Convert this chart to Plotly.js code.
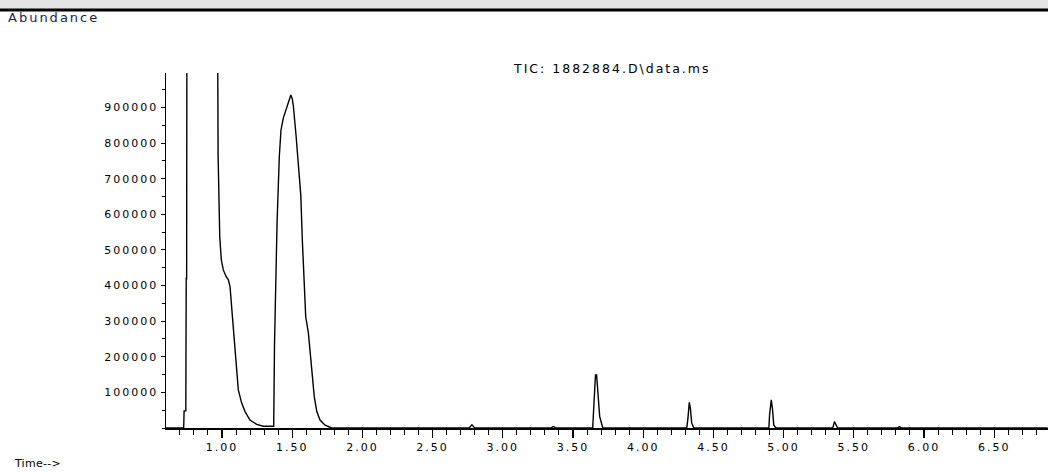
<!DOCTYPE html>
<html>
<head>
<meta charset="utf-8">
<script src="https://cdn.plot.ly/plotly-3.0.1.min.js"></script>
<style>
  html, body { margin: 0; padding: 0; background: #fff; }
  #chart { width: 1048px; height: 473px; }
  svg text { letter-spacing: 2px; }
  g.annotation[data-index="2"] text { letter-spacing: 0.3px; }
</style>
</head>
<body>
<div id="chart"></div>
<script>
// Retention time (min)
const time = [
  0.60, 0.727, 0.730, 0.742, 0.745, 0.748, 0.750, 0.966,
  0.968, 0.972, 0.984, 0.995, 1.009, 1.030, 1.045, 1.057, 1.069, 1.080,
  1.093, 1.105, 1.116, 1.140, 1.164, 1.199, 1.247, 1.294, 1.354,
  1.368, 1.374, 1.392, 1.408, 1.420, 1.437, 1.461, 1.479, 1.490, 1.500,
  1.508, 1.527, 1.543, 1.561, 1.572, 1.586, 1.596, 1.615, 1.627, 1.643,
  1.657, 1.675, 1.698, 1.734, 1.781,
  2.76, 2.78, 2.80,
  3.34, 3.36, 3.38,
  3.640, 3.647, 3.660, 3.668, 3.676, 3.690, 3.712,
  4.310, 4.318, 4.328, 4.336, 4.345, 4.360,
  4.895, 4.900, 4.912, 4.920, 4.930, 4.945,
  5.350, 5.362, 5.370, 5.385,
  5.81, 5.825, 5.84,
  6.88
];
// Abundance (TIC)
const abundance = [
  0, 0, 48000, 48000, 420000, 420000, 1200000, 1200000,
  1200000, 767000, 536000, 472000, 444000, 425000, 416000, 397000, 341000, 285000,
  219000, 154000, 107000, 70000, 46000, 22500, 10000, 5000, 4000,
  5000, 239000, 576000, 762000, 837000, 871000, 902000, 923000, 935000, 925000,
  905000, 823000, 736000, 654000, 528000, 416000, 313000, 267000, 211000, 144000,
  88000, 46000, 22500, 8000, 0,
  0, 9000, 0,
  0, 4000, 0,
  0, 46000, 149000, 149000, 102000, 32000, 0,
  0, 25000, 72000, 55000, 15000, 0,
  0, 37000, 79000, 56000, 8000, 0,
  0, 18000, 10000, 0,
  0, 4000, 0,
  0
];
const xTickVals = [1.0, 1.5, 2.0, 2.5, 3.0, 3.5, 4.0, 4.5, 5.0, 5.5, 6.0, 6.5];
const xTickText = ["1.00", "1.50", "2.00", "2.50", "3.00", "3.50", "4.00", "4.50", "5.00", "5.50", "6.00", "6.50"];
const yTickVals = [100000, 200000, 300000, 400000, 500000, 600000, 700000, 800000, 900000];
const yTickText = ["100000", "200000", "300000", "400000", "500000", "600000", "700000", "800000", "900000"];
const titleText = "TIC: 1882884.D\\data.ms";

const FONT = "DejaVu Sans, Liberation Sans, sans-serif";

const trace = {
  x: time, y: abundance, type: "scatter", mode: "lines",
  line: { color: "#000", width: 1.4 }, hoverinfo: "skip"
};

const layout = {
  width: 1048, height: 473,
  margin: { l: 166, r: 0, t: 73, b: 45 },
  paper_bgcolor: "#fff", plot_bgcolor: "#fff",
  showlegend: false,
  font: { family: FONT, size: 11, color: "#000" },
  xaxis: {
    range: [0.601, 6.883],
    tickvals: xTickVals, ticktext: xTickText,
    ticks: "outside", ticklen: 8, tickwidth: 1.2, tickcolor: "#000",
    minor: { dtick: 0.1, tick0: 0, ticks: "outside", ticklen: 5, tickwidth: 1, tickcolor: "#000" },
    showline: true, linecolor: "#000", linewidth: 1.5,
    showgrid: false, zeroline: false,
    tickfont: { family: FONT, size: 11, color: "#000" }
  },
  yaxis: {
    range: [0, 997000],
    tickvals: yTickVals, ticktext: yTickText,
    ticks: "outside", ticklen: 4, tickwidth: 1, tickcolor: "#000",
    minor: { dtick: 50000, tick0: 0, ticks: "outside", ticklen: 3, tickwidth: 1, tickcolor: "#000" },
    showline: true, linecolor: "#000", linewidth: 1.5,
    showgrid: false, zeroline: false,
    tickfont: { family: FONT, size: 11, color: "#000" }
  },
  shapes: [
    { type: "rect", xref: "paper", yref: "paper", x0: -0.2, x1: 1.05, y0: 1.1803, y1: 1.26,
      fillcolor: "#e4e4e4", line: { width: 0 }, layer: "below" },
    { type: "line", xref: "paper", yref: "paper", x0: -0.2, x1: 1.05, y0: 1.1775, y1: 1.1775,
      line: { color: "#000", width: 3 } }
  ],
  annotations: [
    { text: titleText, xref: "paper", yref: "paper", x: 0.5057, y: 1.014,
      xanchor: "center", yanchor: "middle", showarrow: false,
      font: { family: FONT, size: 12.5, color: "#000" } },
    { text: "Abundance", xref: "paper", yref: "paper", x: -0.181, y: 1.155,
      xanchor: "left", yanchor: "middle", showarrow: false,
      font: { family: FONT, size: 13, color: "#1e1e46" } },
    { text: "Time-->", xref: "paper", yref: "paper", x: -0.181, y: -0.0986,
      xanchor: "left", yanchor: "middle", showarrow: false,
      font: { family: FONT, size: 11, color: "#000" } }
  ]
};

Plotly.newPlot("chart", [trace], layout, { displayModeBar: false, staticPlot: true });
</script>
</body>
</html>
